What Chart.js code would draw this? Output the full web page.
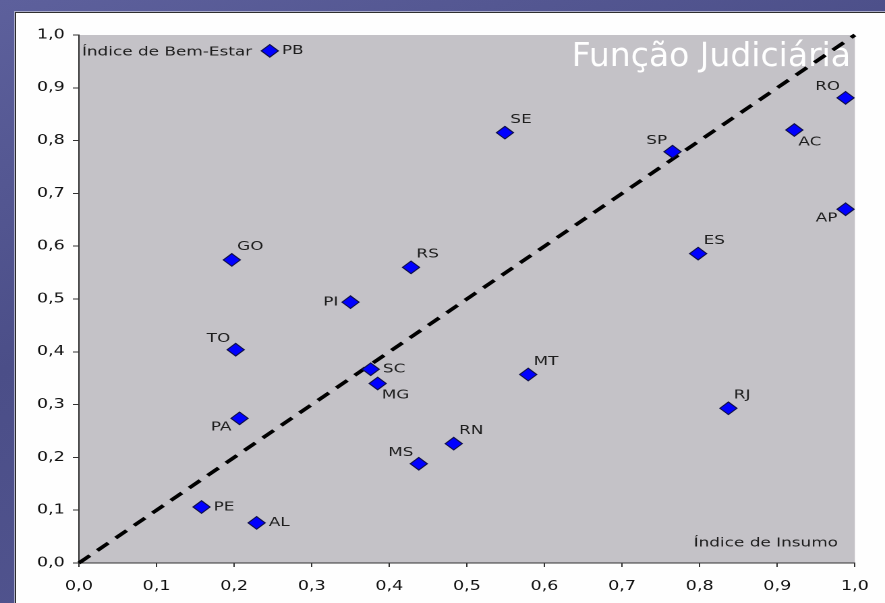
<!DOCTYPE html>
<html>
<head>
<meta charset="utf-8">
<script src="https://cdn.jsdelivr.net/npm/chart.js@4.4.0/dist/chart.umd.min.js"></script>
<style>
  html, body { margin:0; padding:0; width:885px; height:603px; overflow:hidden; }
  body { background: linear-gradient(160deg, #5d609c 0%, #4b4e88 40%, #565994 100%); position:relative; }
  #panel { position:absolute; left:15px; top:12px; width:880px; height:600px; background:#fefefe;
           border-left:1px solid #2f2f2f; border-top:1px solid #2f2f2f; box-shadow:-1px -1px 0 #a9abc8; }
  #wrap { position:absolute; left:0; top:0; width:656px; height:603px; transform:scaleX(1.349085); transform-origin:0 0; }
</style>
</head>
<body>
<div id="panel"></div>
<div id="wrap"><canvas id="c" width="656" height="603"></canvas></div>
<script>
// ---- data ----
const states   = ['PB','SE','SP','AC','RO','AP','ES','GO','RS','PI','TO','SC','MG','MT','RJ','PA','RN','MS','PE','AL'];
const insumo   = [0.246,0.549,0.765,0.922,0.988,0.988,0.798,0.197,0.428,0.350,0.202,0.376,0.385,0.579,0.837,0.207,0.483,0.438,0.158,0.229];
const bemEstar = [0.970,0.815,0.779,0.820,0.881,0.670,0.586,0.574,0.560,0.494,0.404,0.367,0.340,0.357,0.293,0.274,0.226,0.188,0.106,0.076];
const labelSide = ['r','ar','al','br','al','bl','ar','ar','ar','l','al','r','br','ar','ar','bl','ar','al','r','r'];
const tickValues = [0,0.1,0.2,0.3,0.4,0.5,0.6,0.7,0.8,0.9,1.0];
const tickLabels = ['0,0','0,1','0,2','0,3','0,4','0,5','0,6','0,7','0,8','0,9','1,0'];
const diagonal = [{x:0,y:0},{x:1,y:1}];
const chartTitle = 'Função Judiciária';
const yTitle = 'Índice de Bem-Estar';
const xTitle = 'Índice de Insumo';

const S = 885/656;   // horizontal stretch applied to the canvas
const FONT = '"DejaVu Sans", Verdana, sans-serif';

const points = states.map((s,i)=>({x:insumo[i], y:bemEstar[i]}));

const plotBg = {
  id:'plotBg',
  beforeDraw(chart){
    const {ctx, chartArea:a} = chart;
    ctx.save();
    ctx.fillStyle = '#c4c2c7';
    ctx.fillRect(a.left, a.top, a.right-a.left, a.bottom-a.top);
    ctx.restore();
  },
  beforeDatasetsDraw(chart){
    const {ctx, chartArea:a} = chart;
    ctx.save();
    ctx.font = '12.5px ' + FONT;
    ctx.fillStyle = '#1e1e1e';
    ctx.textBaseline = 'middle';
    ctx.textAlign = 'left';
    ctx.fillText(yTitle, a.left + 2.2, a.top + 17);
    ctx.textAlign = 'right';
    ctx.fillText(xTitle, a.right - 12.5, a.bottom - 20);
    // slide title (not stretched)
    ctx.scale(1/S, 1);
    ctx.font = '33px ' + FONT;
    ctx.fillStyle = '#ffffff';
    ctx.textAlign = 'right';
    ctx.textBaseline = 'alphabetic';
    ctx.fillText(chartTitle, 851, 66);
    ctx.restore();
  }
};

const pointLabels = {
  id:'pointLabels',
  afterDatasetsDraw(chart){
    const {ctx} = chart;
    const meta = chart.getDatasetMeta(0);
    ctx.save();
    ctx.font = '12.5px ' + FONT;
    ctx.fillStyle = '#1e1e1e';
    ctx.textBaseline = 'middle';
    meta.data.forEach((el,i)=>{
      const x = el.x, y = el.y;
      let tx = x, ty = y, al = 'left';
      switch(labelSide[i]){
        case 'r':  tx = x + 9;  ty = y;      al='left';  break;
        case 'l':  tx = x - 9;  ty = y;      al='right'; break;
        case 'ar': tx = x + 4;  ty = y - 13; al='left';  break;
        case 'al': tx = x - 4;  ty = y - 11; al='right'; break;
        case 'br': tx = x + 3;  ty = y + 12; al='left';  break;
        case 'bl': tx = x - 6;  ty = y + 9;  al='right'; break;
      }
      ctx.textAlign = al;
      ctx.fillText(states[i], tx, ty);
    });
    ctx.restore();
  }
};

function axisCommon(){
  return {
    type:'linear', min:0, max:1,
    afterBuildTicks(scale){ scale.ticks = tickValues.map(v=>({value:v})); },
    ticks:{
      autoSkip:false, maxRotation:0,
      callback:(v,i)=>tickLabels[i],
      font:{family:FONT, size:13}, color:'#111'
    },
    grid:{ drawOnChartArea:false, drawTicks:true, tickColor:'#333', tickWidth:1 },
    border:{ display:true, color:'#333', width:1 }
  };
}
const xAxis = axisCommon();
xAxis.position = 'bottom';
xAxis.grid.tickLength = 4;
xAxis.ticks.padding = 12;
xAxis.afterFit = (s)=>{ s.height = 40; };
const yAxis = axisCommon();
yAxis.position = 'left';
yAxis.grid.tickLength = 4.5;
yAxis.ticks.padding = 6;
yAxis.afterFit = (s)=>{ s.width = 58.5; };

new Chart(document.getElementById('c'), {
  type:'scatter',
  data:{
    datasets:[
      {
        label:'Estados', data:points, order:0,
        pointStyle:'rectRot', pointRadius:6.3, pointHoverRadius:6.3,
        backgroundColor:'#0000ff', borderColor:'#10104a', borderWidth:1
      },
      {
        label:'Diagonal', data:diagonal, order:1, showLine:true,
        pointRadius:0, borderColor:'#000', borderWidth:3.3, borderDash:[11,7.5],
        clip:false
      }
    ]
  },
  options:{
    responsive:false, animation:false, devicePixelRatio:2,
    layout:{ padding:{ left:0, top:35, right:21.5, bottom:0 } },
    plugins:{ legend:{display:false}, tooltip:{enabled:false}, title:{display:false} },
    scales:{ x:xAxis, y:yAxis }
  },
  plugins:[plotBg, pointLabels]
});
</script>
</body>
</html>
